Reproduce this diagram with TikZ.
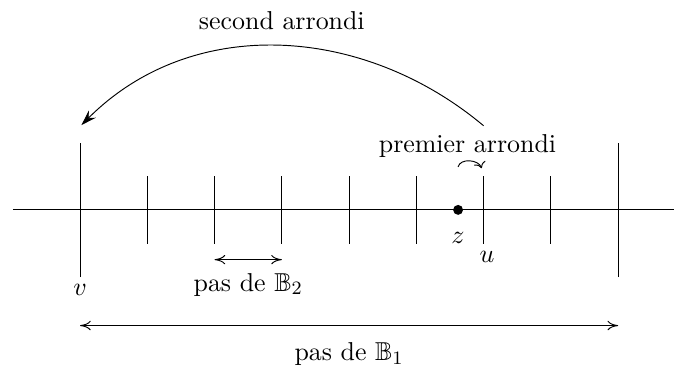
\documentclass[11pt,tikz,border=0pt]{standalone}
\usepackage{amssymb}
\usetikzlibrary{arrows.meta,positioning}

\begin{document}
\begin{tikzpicture}[
  longtick/.style={draw},
  shorttick/.style={draw},
  lab/.style={inner sep=1pt},
  arr/.style={-{Stealth[length=6.5pt,width=4.2pt]}},
  dbl/.style={{To[length=4.5pt,width=4pt]}-{To[length=4.5pt,width=4pt]}}
]
\useasboundingbox (-1.19,-2.36) rectangle (8.83,3.12);
% axe et graduations
\draw (-1,0) -- (8.83,0);
\foreach \i in {1,...,7}
  \draw[shorttick] (\i,-0.5) -- (\i,0.5);
\draw[longtick] (0,-1) -- (0,1);
\draw[longtick] (8,-1) -- (8,1);
\node[circle,fill,inner sep=0pt,minimum size=4.2pt] (z) at (5.62,0) {};
\node[lab] (zlab) at (5.62,-0.42) {$z$};
\node[lab] (ulab) at (6.05,-0.7) {$u$};
\node[lab] (vlab) at (0,-1.19) {$v$};
% arrondis
\coordinate (ustart) at (6,1.25);
\coordinate (vend) at (0.02,1.26);
\draw[arr] (ustart) to[out=140,in=45] (vend);
\node[lab] (second) at (3,2.82) {second arrondi};
\node[lab] (premier) at (5.76,0.95) {premier arrondi};
\coordinate (zup) at (5.62,0.64);
\coordinate (uup) at (5.97,0.62);
\draw[->] (zup) to[out=75,in=110] (uup);
% pas
\coordinate (p2a) at (2,-0.74);
\coordinate (p2b) at (3,-0.74);
\draw[dbl] (p2a) -- (p2b);
\node[lab] (pas2) at (2.5,-1.11) {pas de $\mathbb{B}_2$};
\coordinate (p1a) at (0,-1.72);
\coordinate (p1b) at (8,-1.72);
\draw[dbl] (p1a) -- (p1b);
\node[lab] (pas1) at (4,-2.15) {pas de $\mathbb{B}_1$};
\end{tikzpicture}
\end{document}
